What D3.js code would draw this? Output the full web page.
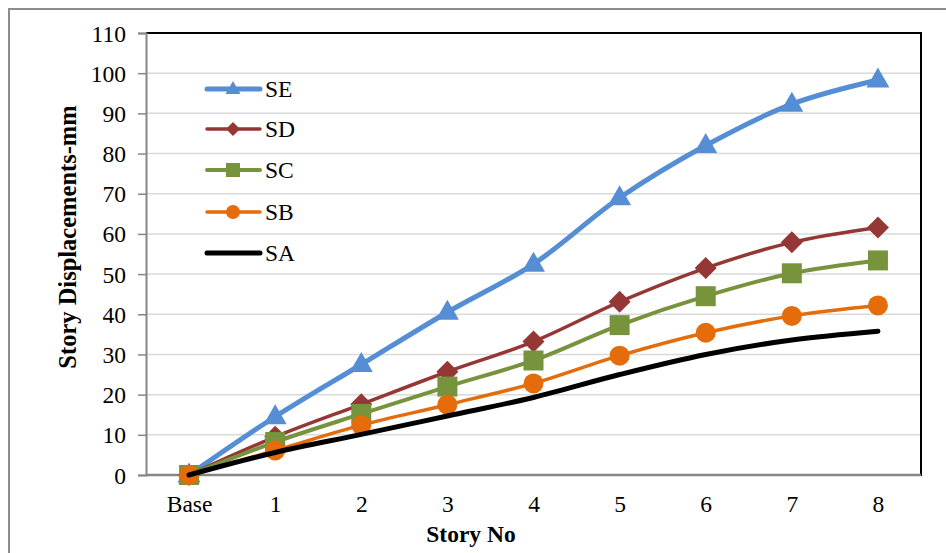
<!DOCTYPE html>
<html>
<head>
<meta charset="utf-8">
<script src="https://cdn.jsdelivr.net/npm/d3@7"></script>
<style>
  html, body { margin: 0; padding: 0; background: #fff; }
  svg { display: block; font-family: "Liberation Serif", "Times New Roman", serif; }
</style>
</head>
<body>
<svg id="chart" width="946" height="553"></svg>
<script>
const categories = ["Base", "1", "2", "3", "4", "5", "6", "7", "8"];
const yTicks = [0, 10, 20, 30, 40, 50, 60, 70, 80, 90, 100, 110];
const seriesNames = ["SE", "SD", "SC", "SB", "SA"];
const SE = [0, 14.5, 27.5, 40.5, 52.5, 69, 82, 92.3, 98.3];
const SD = [0, 9.5, 17.6, 25.7, 33.2, 43.1, 51.5, 57.9, 61.6];
const SC = [0, 8.2, 15.2, 22, 28.5, 37.3, 44.5, 50.2, 53.4];
const SB = [0, 6.1, 12.4, 17.5, 22.8, 29.7, 35.4, 39.6, 42.2];
const SA = [0, 5.6, 10.1, 14.7, 19.3, 25, 30, 33.6, 35.8];

const seriesList = [
  { name: "SE", values: SE, color: "#558ED5", width: 5, marker: "triangle", size: 23 },
  { name: "SD", values: SD, color: "#953735", width: 3.5, marker: "diamond", size: 22 },
  { name: "SC", values: SC, color: "#77933C", width: 4, marker: "square", size: 20 },
  { name: "SB", values: SB, color: "#E46C0A", width: 3.5, marker: "circle", size: 20 },
  { name: "SA", values: SA, color: "#000000", width: 5, marker: "none", size: 0 }
];

const svg = d3.select("#chart");
const pLeft = 146, pRight = 921, pTop = 33, pBottom = 475;

// outer border
svg.append("rect").attr("x", 9).attr("y", 9).attr("width", 960).attr("height", 560)
  .attr("fill", "none").attr("stroke", "#8c8c8c").attr("stroke-width", 2);

const x = d3.scalePoint().domain(categories).range([pLeft, pRight]).padding(0.5);
const y = d3.scaleLinear().domain([0, 110]).range([pBottom, pTop]);

// gridlines
svg.append("g").selectAll("line").data(yTicks.filter(d => d > 0 && d < 110)).join("line")
  .attr("x1", pLeft).attr("x2", pRight)
  .attr("y1", d => y(d)).attr("y2", d => y(d))
  .attr("stroke", "#d9d9d9").attr("stroke-width", 1.5);

// top and right frame
svg.append("line").attr("x1", pLeft).attr("x2", pRight + 1).attr("y1", pTop).attr("y2", pTop)
  .attr("stroke", "#000").attr("stroke-width", 2);
svg.append("line").attr("x1", pRight).attr("x2", pRight).attr("y1", pTop).attr("y2", pBottom + 1)
  .attr("stroke", "#000").attr("stroke-width", 2);

// y axis
const yAxis = d3.axisLeft(y).tickValues(yTicks).tickSize(8).tickPadding(12).tickFormat(d3.format("d"));
const gy = svg.append("g").attr("transform", `translate(${pLeft},0)`).call(yAxis);
gy.select(".domain").attr("stroke", "#868686").attr("stroke-width", 2);
gy.selectAll(".tick line").attr("stroke", "#868686").attr("stroke-width", 1.5);
gy.selectAll(".tick text").attr("font-size", 23.5).attr("fill", "#000")
  .attr("font-family", "Liberation Serif").attr("dy", "0.34em");

// x axis
const xAxis = d3.axisBottom(x).tickSize(0).tickPadding(20);
const gx = svg.append("g").attr("transform", `translate(0,${pBottom})`).call(xAxis);
gx.select(".domain").attr("stroke", "#868686").attr("stroke-width", 2.5)
  .attr("d", `M${pLeft},0H${pRight}`);
gx.selectAll(".tick text").attr("font-size", 23.5).attr("fill", "#000")
  .attr("font-family", "Liberation Serif");

// axis titles
svg.append("text").attr("transform", "translate(76,237) rotate(-90)")
  .attr("text-anchor", "middle").attr("font-weight", "bold").attr("font-size", 24.5)
  .text("Story Displacements-mm");
svg.append("text").attr("x", 471).attr("y", 542)
  .attr("text-anchor", "middle").attr("font-weight", "bold").attr("font-size", 23.5)
  .text("Story No");

function markerPath(type, size) {
  const s = size;
  if (type === "triangle") {
    const h = s * 0.87;
    return `M0,${-h * 0.62}L${s / 2},${h * 0.38}L${-s / 2},${h * 0.38}Z`;
  }
  if (type === "diamond") {
    const r = s / 2;
    return `M0,${-r}L${r},0L0,${r}L${-r},0Z`;
  }
  if (type === "square") {
    const r = s / 2;
    return `M${-r},${-r}H${r}V${r}H${-r}Z`;
  }
  if (type === "circle") {
    const r = s / 2;
    return `M${r},0A${r},${r} 0 1,1 ${-r},0A${r},${r} 0 1,1 ${r},0Z`;
  }
  return "";
}

const line = d3.line()
  .x((d, i) => x(categories[i]))
  .y(d => y(d))
  .curve(d3.curveCatmullRom.alpha(0.5));

seriesList.forEach(s => {
  const g = svg.append("g");
  g.append("path").attr("d", line(s.values)).attr("fill", "none")
    .attr("stroke", s.color).attr("stroke-width", s.width)
    .attr("stroke-linejoin", "round").attr("stroke-linecap", "round");
  if (s.marker !== "none") {
    g.selectAll("path.m").data(s.values).join("path").attr("class", "m")
      .attr("transform", (d, i) => `translate(${x(categories[i])},${y(d)})`)
      .attr("d", markerPath(s.marker, s.size))
      .attr("fill", s.color);
  }
});

// legend
const legendY = [89, 129, 170, 212, 253];
seriesList.forEach((s, i) => {
  const g = svg.append("g").attr("transform", `translate(0,${legendY[i]})`);
  g.append("line").attr("x1", 207).attr("x2", 260).attr("y1", 0).attr("y2", 0)
    .attr("stroke", s.color).attr("stroke-width", s.width).attr("stroke-linecap", "round");
  if (s.marker !== "none") {
    g.append("path").attr("transform", "translate(233,0)")
      .attr("d", markerPath(s.marker, s.marker === "triangle" ? 15 : 14)).attr("fill", s.color);
  }
  g.append("text").attr("x", 265).attr("y", 8).attr("font-size", 23.5).text(seriesNames[i]);
});
</script>
</body>
</html>
